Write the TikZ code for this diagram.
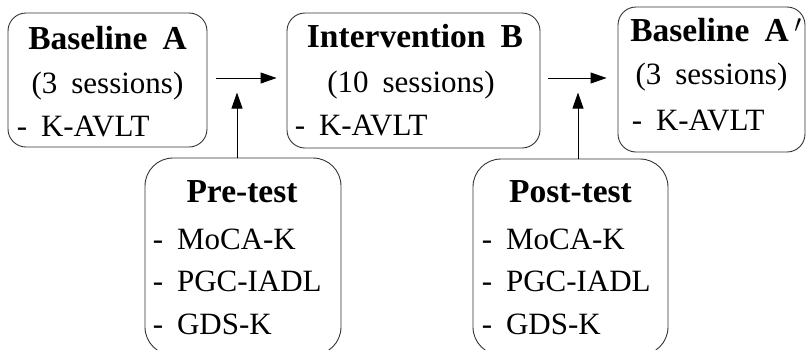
\documentclass[tikz,border=0pt]{standalone}
\usepackage{fontspec}
\setmainfont[WordSpace={1.8}]{Liberation Serif}
\usetikzlibrary{arrows.meta,positioning}
\newlength{\PhaseRadius}
\newlength{\TestRadius}
\setlength{\PhaseRadius}{18pt}
\setlength{\TestRadius}{28pt}
\tikzset{
  phase box/.style={draw=black!80, line width=0.9pt, rectangle, rounded corners=\PhaseRadius, inner sep=0pt},
  test box/.style={draw=black!80, line width=0.9pt, rectangle, rounded corners=\TestRadius, inner sep=0pt},
  title text/.style={draw=none, inner sep=0pt, anchor=base, font=\fontsize{33.5}{40}\selectfont\bfseries},
  count text/.style={draw=none, inner sep=0pt, anchor=base, font=\fontsize{31}{37}\selectfont},
  item text/.style={draw=none, inner sep=0pt, anchor=base west, font=\fontsize{31}{37}\selectfont},
  flow arrow/.style={-{Triangle[length=16pt,width=11pt]}, line width=0.9pt}
}

\begin{document}
\begin{tikzpicture}[x=1pt, y=1pt]
  \useasboundingbox (0,0) rectangle (807,-349);
  \clip (0,0) rectangle (807,-349);

  % phases
  \node[phase box, minimum width=199pt, minimum height=134pt] (baseA) at (107.5,-80) {};
  \node[phase box, minimum width=253pt, minimum height=135pt] (interB) at (413.5,-80.5) {};
  \node[phase box, minimum width=187pt, minimum height=145pt] (baseA2) at (711.5,-79.5) {};

  % tests
  \node[test box, minimum width=196pt, minimum height=197pt] (pre) at (243,-256.5) {};
  \node[test box, minimum width=195pt, minimum height=196pt] (post) at (570.5,-257) {};

  \node[title text] (baseATitle) at ([yshift=-37pt]baseA.north) {Baseline A};
  \node[count text] (baseACount) at ([yshift=-81pt]baseA.north) {(3 sessions)};
  \node[item text]  (baseAItem)  at ([xshift=9pt,yshift=-124pt]baseA.north west) {- K-AVLT};

  \node[title text] (interBTitle) at ([xshift=1.5pt,yshift=-35pt]interB.north) {Intervention B};
  \node[count text] (interBCount) at ([xshift=-2.5pt,yshift=-80pt]interB.north) {(10 sessions)};
  \node[item text]  (interBItem)  at ([xshift=8pt,yshift=-123pt]interB.north west) {- K-AVLT};

  \node[title text] (baseA2Title) at ([xshift=4.5pt,yshift=-35pt]baseA2.north) {Baseline A\,$^{\prime}$};
  \node[count text] (baseA2Count) at ([yshift=-78pt]baseA2.north) {(3 sessions)};
  \node[item text]  (baseA2Item)  at ([xshift=14pt,yshift=-124pt]baseA2.north west) {- K-AVLT};

  \node[title text] (preTitle) at ([xshift=-1pt,yshift=-45pt]pre.north) {Pre-test};
  \node[item text]  (preMoca)  at ([xshift=8pt,yshift=-92pt]pre.north west) {- MoCA-K};
  \node[item text]  (prePgc)   at ([xshift=8pt,yshift=-134pt]pre.north west) {- PGC-IADL};
  \node[item text]  (preGds)   at ([xshift=8pt,yshift=-177pt]pre.north west) {- GDS-K};

  \node[title text] (postTitle) at ([yshift=-44pt]post.north) {Post-test};
  \node[item text]  (postMoca)  at ([xshift=9pt,yshift=-91pt]post.north west) {- MoCA-K};
  \node[item text]  (postPgc)   at ([xshift=9pt,yshift=-133pt]post.north west) {- PGC-IADL};
  \node[item text]  (postGds)   at ([xshift=9pt,yshift=-176pt]post.north west) {- GDS-K};

  % flow
  \draw[flow arrow, shorten <=9pt, shorten >=10pt] ([yshift=2pt]baseA.east) -- ([yshift=2pt]baseA.east -| interB.west);
  \draw[flow arrow, shorten <=8pt, shorten >=11pt] ([yshift=2.5pt]interB.east) -- ([yshift=2.5pt]interB.east -| baseA2.west);

  \coordinate (preTip) at ([xshift=-6pt,yshift=65pt]pre.north);
  \coordinate (postTip) at ([xshift=7.5pt,yshift=66pt]post.north);
  \draw[flow arrow] ([xshift=-6pt]pre.north) -- (preTip);
  \draw[flow arrow] ([xshift=7.5pt]post.north) -- (postTip);
\end{tikzpicture}
\end{document}
